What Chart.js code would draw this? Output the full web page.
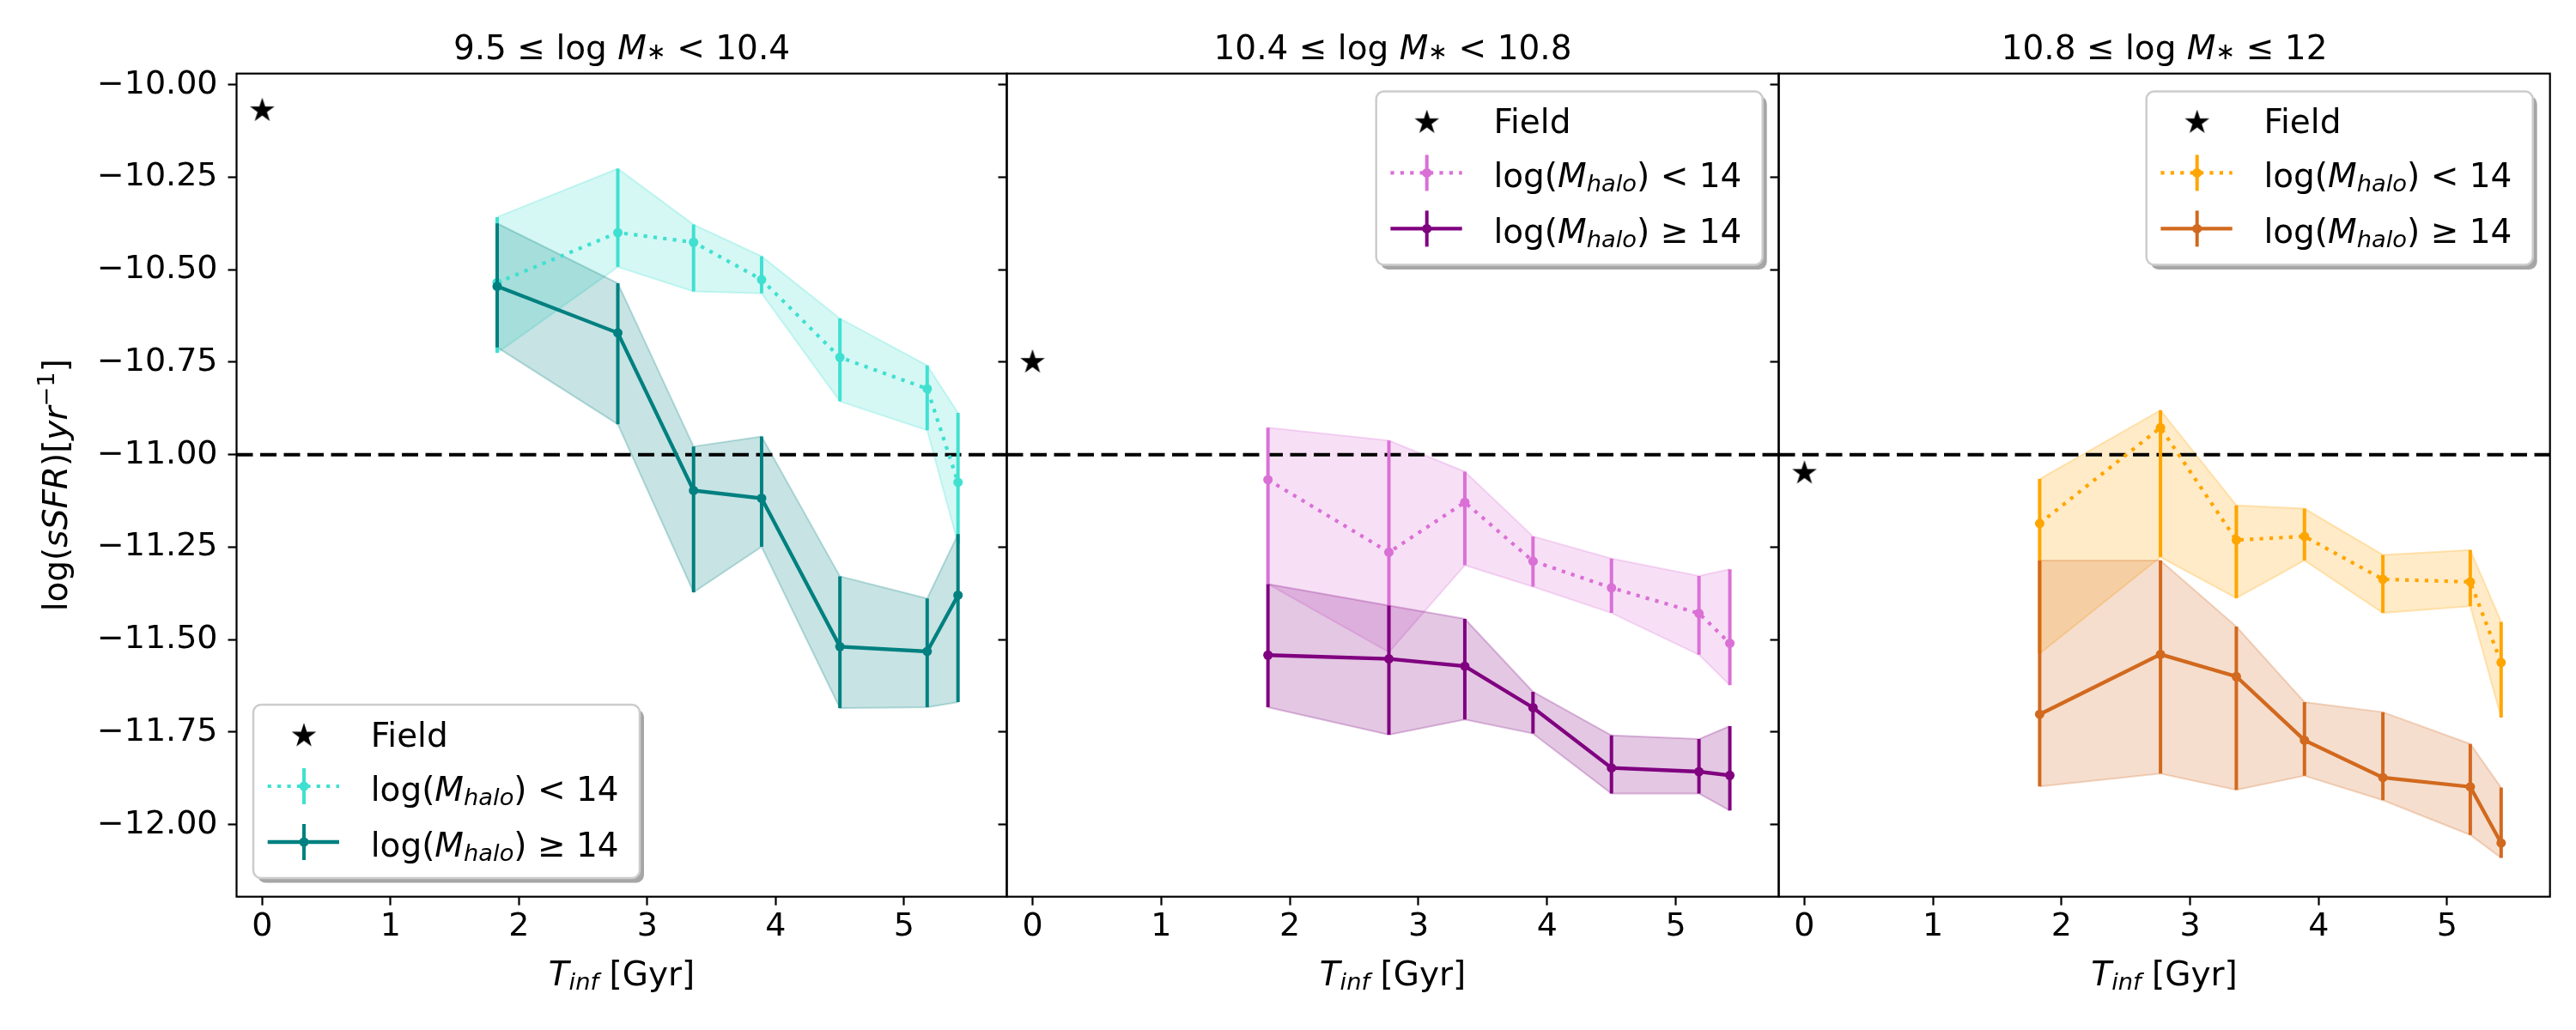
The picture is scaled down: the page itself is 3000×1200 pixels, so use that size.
<!DOCTYPE html>
<html>
<head>
<meta charset="utf-8">
<script src="https://cdn.jsdelivr.net/npm/chart.js@4.4.1/dist/chart.umd.min.js"></script>
<style>
  html, body { margin: 0; padding: 0; background: #fff; }
  #wrap { position: relative; width: 3000px; height: 1200px; overflow: hidden; background: #fff; }
  canvas { position: absolute; top: 0; }
</style>
</head>
<body>
<div id="wrap">
  <canvas id="p1" width="1180" height="1200" style="left:0px"></canvas>
  <canvas id="p2" width="937" height="1200" style="left:1143px"></canvas>
  <canvas id="p3" width="940" height="1200" style="left:2041px"></canvas>
</div>
<script>
// infall time bins (Gyr)
const tInf = [1.83, 2.77, 3.36, 3.89, 4.50, 5.18, 5.42];
const fieldSSFR = [-10.07, -10.75, -11.05];
const sfrCut = -11;

const xTicks = [0, 1, 2, 3, 4, 5];
const yTicks = [-12.00, -11.75, -11.50, -11.25, -11.00, -10.75, -10.50, -10.25, -10.00];
const xLim = [-0.2, 5.8];
const yLim = [-12.195, -9.970];

// 9.5 <= log M* < 10.4
const low1   = [-10.535, -10.400, -10.426, -10.527, -10.737, -10.822, -11.075];
const low1Lo = [-10.725, -10.493, -10.559, -10.564, -10.856, -10.934, -11.241];
const low1Hi = [-10.358, -10.227, -10.378, -10.464, -10.632, -10.759, -10.887];
const high1   = [-10.545, -10.671, -11.097, -11.118, -11.519, -11.532, -11.380];
const high1Lo = [-10.710, -10.918, -11.372, -11.249, -11.685, -11.683, -11.669];
const high1Hi = [-10.375, -10.537, -10.978, -10.951, -11.329, -11.389, -11.215];

// 10.4 <= log M* < 10.8
const low2   = [-11.068, -11.264, -11.129, -11.288, -11.360, -11.429, -11.510];
const low2Lo = [-11.350, -11.534, -11.299, -11.357, -11.428, -11.541, -11.623];
const low2Hi = [-10.927, -10.962, -11.046, -11.221, -11.281, -11.328, -11.310];
const high2   = [-11.542, -11.552, -11.572, -11.684, -11.847, -11.857, -11.867];
const high2Lo = [-11.683, -11.757, -11.716, -11.754, -11.916, -11.916, -11.962];
const high2Hi = [-11.350, -11.408, -11.444, -11.641, -11.759, -11.769, -11.734];

// 10.8 <= log M* <= 12
const low3   = [-11.186, -10.927, -11.231, -11.221, -11.337, -11.344, -11.562];
const low3Lo = [-11.538, -11.277, -11.388, -11.286, -11.428, -11.410, -11.711];
const low3Hi = [-11.066, -10.880, -11.137, -11.146, -11.271, -11.258, -11.452];
const high3   = [-11.702, -11.540, -11.600, -11.772, -11.873, -11.898, -12.050];
const high3Lo = [-11.897, -11.862, -11.906, -11.868, -11.934, -12.028, -12.090];
const high3Hi = [-11.286, -11.286, -11.465, -11.669, -11.696, -11.782, -11.900];

const titles = [
  [{t: '9.5 ≤ log '}, {t: 'M', i: 1}, {t: '∗', s: 'sub', dy: 0}, {t: ' < 10.4'}],
  [{t: '10.4 ≤ log '}, {t: 'M', i: 1}, {t: '∗', s: 'sub', dy: 0}, {t: ' < 10.8'}],
  [{t: '10.8 ≤ log '}, {t: 'M', i: 1}, {t: '∗', s: 'sub', dy: 0}, {t: ' ≤ 12'}]
];
const xLabel = [{t: 'T', i: 1}, {t: 'inf', i: 1, s: 'sub'}, {t: ' [Gyr]'}];
const yLabel = [{t: 'log('}, {t: 'sSFR', i: 1}, {t: ')['}, {t: 'yr', i: 1}, {t: '−1', s: 'sup'}, {t: ']'}];
const legendField = [{t: 'Field'}];
const legendLow = [{t: 'log('}, {t: 'M', i: 1}, {t: 'halo', i: 1, s: 'sub'}, {t: ') < 14'}];
const legendHigh = [{t: 'log('}, {t: 'M', i: 1}, {t: 'halo', i: 1, s: 'sub'}, {t: ') ≥ 14'}];

const RGB = {
  turquoise: [64, 224, 208], teal: [0, 128, 128],
  orchid: [218, 112, 214], purple: [128, 0, 128],
  orange: [255, 165, 0], chocolate: [210, 105, 30]
};
const rgba = (c, a) => `rgba(${RGB[c][0]},${RGB[c][1]},${RGB[c][2]},${a})`;
const FONT = '"DejaVu Sans", "Liberation Sans", sans-serif';
const DOT = [4.2, 7.2];

function makeStar(r) {
  const c = document.createElement('canvas');
  const s = Math.ceil(2 * r + 2);
  c.width = c.height = s;
  const g = c.getContext('2d');
  g.beginPath();
  for (let k = 0; k < 10; k++) {
    const rr = k % 2 ? r * 0.382 : r;
    const a = -Math.PI / 2 + k * Math.PI / 5;
    g.lineTo(s / 2 + rr * Math.cos(a), s / 2 + rr * Math.sin(a));
  }
  g.closePath();
  g.fillStyle = '#000';
  g.fill();
  return c;
}
const star = makeStar(15);

function drawMath(ctx, segs, x, y, size, align) {
  const parts = segs.map(s => {
    const sz = s.s ? size * 0.7 : size;
    const font = (s.i ? 'italic ' : '') + sz + 'px ' + FONT;
    ctx.font = font;
    let dy = 0;
    if (s.s === 'sub') dy = size * 0.13;
    if (s.s === 'sup') dy = -size * 0.38;
    if (s.dy !== undefined) dy = s.dy * size;
    return {t: s.t, font, dy, w: ctx.measureText(s.t).width};
  });
  const total = parts.reduce((a, p) => a + p.w, 0);
  let cx = align === 'center' ? x - total / 2 : x;
  ctx.fillStyle = '#000';
  ctx.textAlign = 'left';
  ctx.textBaseline = 'alphabetic';
  parts.forEach(p => {
    ctx.font = p.font;
    ctx.fillText(p.t, cx, y + p.dy);
    cx += p.w;
  });
}

function drawLegend(ctx, a, o) {
  const w = 450, h = 202;
  let x, y;
  if (o.pos === 'll') { x = a.left + o.dx; y = a.bottom - o.dy - h; }
  else { x = a.right - o.dx - w; y = a.top + o.dy; }
  ctx.save();
  ctx.beginPath(); ctx.roundRect(x + 5, y + 5.5, w, h, 9);
  ctx.fillStyle = 'rgba(0,0,0,0.35)'; ctx.fill();
  ctx.beginPath(); ctx.roundRect(x, y, w, h, 9);
  ctx.fillStyle = '#fff'; ctx.fill();
  ctx.strokeStyle = '#cccccc'; ctx.lineWidth = 2.5; ctx.stroke();

  const hx = x + 59;
  ctx.drawImage(star, hx - star.width / 2, y + 36.3 - star.height / 2);
  drawMath(ctx, legendField, x + 136.7, y + 36.3 + 12.5, 39, 'left');

  [[o.cLow, true, y + 95, legendLow], [o.cHigh, false, y + 160, legendHigh]].forEach(([c, dotted, ry, segs]) => {
    ctx.strokeStyle = rgba(c, 1);
    ctx.lineCap = 'butt';
    ctx.beginPath();
    ctx.setLineDash(dotted ? DOT : []);
    ctx.lineWidth = dotted ? 4.2 : 4.3;
    ctx.moveTo(x + 16.7, ry); ctx.lineTo(x + 100, ry); ctx.stroke();
    ctx.setLineDash([]);
    ctx.lineWidth = 4;
    ctx.beginPath(); ctx.moveTo(hx, ry - 21); ctx.lineTo(hx, ry + 21); ctx.stroke();
    ctx.fillStyle = rgba(c, 1);
    ctx.beginPath(); ctx.arc(hx, ry, 5.5, 0, 2 * Math.PI); ctx.fill();
    drawMath(ctx, segs, x + 136.7, ry + 17, 39, 'left');
  });
  ctx.restore();
}

const panelDeco = {
  id: 'panelDeco',
  afterDraw(chart, args, o) {
    const ctx = chart.ctx, a = chart.chartArea;
    const mid = (a.left + a.right) / 2;
    ctx.save();
    ctx.strokeStyle = '#000';
    ctx.lineWidth = 2.2;
    ctx.strokeRect(a.left, a.top, a.right - a.left, a.bottom - a.top);
    drawMath(ctx, o.title, mid, 69, 39, 'center');
    drawMath(ctx, xLabel, mid, 1148, 39, 'center');
    if (o.ylabel) {
      ctx.save();
      ctx.translate(78, (a.top + a.bottom) / 2);
      ctx.rotate(-Math.PI / 2);
      drawMath(ctx, yLabel, 0, 0, 39, 'center');
      ctx.restore();
    }
    ctx.restore();
    drawLegend(ctx, a, o.legend);
  }
};

const pts = v => tInf.map((t, i) => ({x: t, y: v[i]}));

function bandSets(lo, hi, c, order) {
  return [
    {data: pts(hi), fill: '+1', backgroundColor: rgba(c, 0.22), borderColor: rgba(c, 0.25),
     borderWidth: 2, pointRadius: 0, order},
    {data: pts(lo), fill: false, borderColor: rgba(c, 0.25), borderWidth: 2, pointRadius: 0, order}
  ];
}
function errSet(lo, hi, c, order) {
  const d = [];
  tInf.forEach((t, i) => { d.push({x: t, y: lo[i]}, {x: t, y: hi[i]}, {x: t, y: null}); });
  return {data: d, borderColor: rgba(c, 1), borderWidth: 4, pointRadius: 0, spanGaps: false,
          borderCapStyle: 'butt', order};
}
function lineSet(v, c, dotted, order) {
  return {data: pts(v), borderColor: rgba(c, 1), borderWidth: dotted ? 4.2 : 4.3,
          borderDash: dotted ? DOT : [], borderCapStyle: 'butt',
          pointRadius: 5.5, pointBackgroundColor: rgba(c, 1), pointBorderWidth: 0, order};
}

const panels = [
  {id: 'p1', low: [low1, low1Lo, low1Hi], high: [high1, high1Lo, high1Hi], cLow: 'turquoise', cHigh: 'teal',
   yWidth: 275.5, padR: 7.5, labels: true, legend: {pos: 'll', dx: 19.5, dy: 21.7}},
  {id: 'p2', low: [low2, low2Lo, low2Hi], high: [high2, high2Lo, high2Hi], cLow: 'orchid', cHigh: 'purple',
   yWidth: 29.5, padR: 8.5, labels: false, legend: {pos: 'ur', dx: 18.8, dy: 20.7}},
  {id: 'p3', low: [low3, low3Lo, low3Hi], high: [high3, high3Lo, high3Hi], cLow: 'orange', cHigh: 'chocolate',
   yWidth: 30.5, padR: 11.3, labels: false, legend: {pos: 'ur', dx: 20, dy: 20.7}}
];

panels.forEach((p, k) => {
  const datasets = [
    ...bandSets(p.low[1], p.low[2], p.cLow, 90),
    ...bandSets(p.high[1], p.high[2], p.cHigh, 80),
    {data: xLim.map(x => ({x, y: sfrCut})), borderColor: '#000', borderWidth: 4,
     borderDash: [19, 8.5], pointRadius: 0, order: 70},
    errSet(p.low[1], p.low[2], p.cLow, 60),
    lineSet(p.low[0], p.cLow, true, 50),
    errSet(p.high[1], p.high[2], p.cHigh, 40),
    lineSet(p.high[0], p.cHigh, false, 30),
    {data: [{x: 0, y: fieldSSFR[k]}], showLine: false, pointStyle: star, pointRadius: 15, order: 10}
  ];
  new Chart(document.getElementById(p.id), {
    type: 'line',
    data: {datasets},
    options: {
      responsive: false, animation: false, devicePixelRatio: 1, events: [],
      layout: {autoPadding: false, padding: {top: 85.7, left: 0, right: p.padR, bottom: 0}},
      plugins: {
        legend: {display: false}, tooltip: {enabled: false},
        panelDeco: {title: titles[k], ylabel: p.labels,
                    legend: {...p.legend, cLow: p.cLow, cHigh: p.cHigh}}
      },
      scales: {
        x: {
          type: 'linear', min: xLim[0], max: xLim[1],
          afterBuildTicks: s => { s.ticks = xTicks.map(v => ({value: v})); },
          afterFit: s => { s.height = 155.3; s.paddingLeft = 0; s.paddingRight = 0; },
          border: {display: false},
          grid: {drawOnChartArea: false, drawTicks: true, tickLength: 10, tickWidth: 2.2, tickColor: '#000'},
          ticks: {autoSkip: false, maxRotation: 0, padding: 3, color: '#000',
                  font: {family: FONT, size: 38}, callback: v => String(v)}
        },
        y: {
          type: 'linear', min: yLim[0], max: yLim[1],
          afterBuildTicks: s => { s.ticks = yTicks.map(v => ({value: v})); },
          afterFit: s => { s.width = p.yWidth; s.paddingTop = 0; s.paddingBottom = 0; },
          border: {display: false},
          grid: {drawOnChartArea: false, drawTicks: true, tickLength: 10, tickWidth: 2.2, tickColor: '#000'},
          ticks: {autoSkip: false, padding: 12, color: '#000', font: {family: FONT, size: 38},
                  callback: v => p.labels ? (v < 0 ? '−' : '') + Math.abs(v).toFixed(2) : ''}
        }
      }
    },
    plugins: [panelDeco]
  });
});
</script>
</body>
</html>
